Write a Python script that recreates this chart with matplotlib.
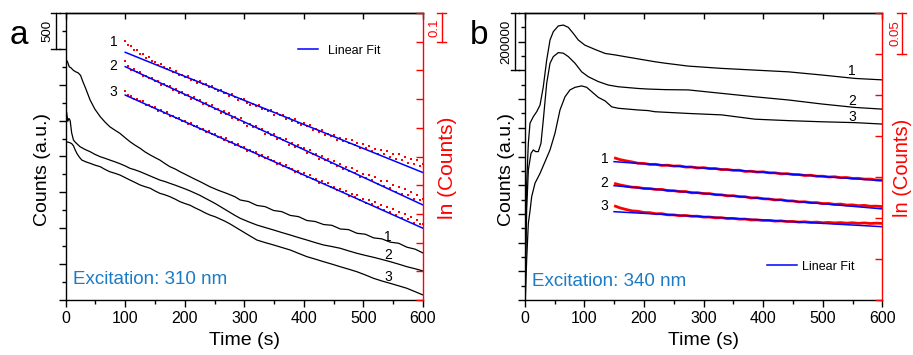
import matplotlib
matplotlib.use('Agg')
import matplotlib.pyplot as plt
import matplotlib.transforms as mtransforms
from matplotlib.ticker import MultipleLocator, NullFormatter
from matplotlib.lines import Line2D

plt.rcParams['font.family'] = ['Liberation Sans', 'DejaVu Sans']

# ---------------- Panel a data (Excitation 310 nm) ----------------
a1_t = [0, 3, 6, 9, 13, 17, 21, 25, 29, 33, 41, 49, 58, 66, 74, 83, 91, 100, 108, 116, 125, 133, 142, 150,
        158, 167, 175, 184, 192, 200, 214, 228, 242, 256, 270, 284, 293, 307, 321, 335, 349, 363, 377, 391,
        405, 419, 433, 447, 461, 475, 489, 503, 517, 531, 545, 559, 573, 587, 600]
a1_c = [3360, 3320, 3250, 3235, 3200, 3180, 3165, 3130, 3040, 2960, 2787, 2660, 2555, 2480, 2415, 2365, 2323,
        2260, 2206, 2160, 2114, 2065, 2021, 1985, 1951, 1900, 1858, 1825, 1788, 1755, 1696, 1640, 1579, 1530,
        1487, 1440, 1394, 1372, 1318, 1301, 1248, 1231, 1179, 1162, 1108, 1094, 1052, 1041, 990, 981, 930,
        917, 866, 852, 806, 791, 736, 708, 655]
a2_t = [0, 1.5, 3.5, 5.5, 7.5, 10, 13, 16, 24, 32, 41, 49, 58, 66, 74, 83, 91, 100, 108, 116, 125, 133, 142,
        150, 158, 167, 175, 184, 192, 200, 209, 217, 225, 234, 242, 251, 259, 267, 276, 284, 293, 307, 321,
        335, 349, 363, 377, 391, 405, 419, 433, 447, 461, 475, 489, 503, 517, 531, 545, 559, 573, 587, 600]
a2_c = [2450, 2620, 2490, 2530, 2500, 2330, 2230, 2200, 2137, 2100, 2067, 2030, 1997, 1975, 1951, 1925, 1900,
        1868, 1835, 1815, 1788, 1760, 1728, 1700, 1672, 1650, 1626, 1600, 1575, 1550, 1520, 1490, 1460, 1420,
        1385, 1345, 1305, 1265, 1220, 1180, 1139, 1090, 1045, 1010, 976, 940, 906, 870, 836, 800, 767, 745,
        721, 685, 651, 622, 595, 565, 534, 500, 464, 435, 405]
a3_t = [0, 4, 7, 10, 13, 16, 19, 23, 27, 34, 41, 49, 58, 66, 74, 83, 91, 100, 108, 116, 125, 133, 142, 150,
        158, 167, 175, 184, 192, 200, 209, 217, 226, 234, 242, 251, 259, 267, 276, 284, 293, 307, 321, 335,
        349, 363, 377, 391, 405, 419, 433, 447, 461, 475, 489, 503, 517, 531, 545, 559, 573, 587, 600]
a3_c = [2206, 2200, 2192, 2180, 2150, 2090, 2040, 1990, 1951, 1925, 1905, 1880, 1858, 1820, 1788, 1765, 1742,
        1705, 1672, 1640, 1603, 1580, 1557, 1520, 1487, 1465, 1440, 1405, 1370, 1345, 1320, 1285, 1250, 1215,
        1185, 1160, 1130, 1100, 1060, 1020, 975, 905, 836, 800, 767, 732, 697, 650, 604, 570, 534, 500, 464,
        430, 394, 350, 302, 265, 232, 198, 163, 115, 70]

redA_t = list(range(100, 601, 5))
redA1 = [7.902, 7.888, 7.886, 7.872, 7.871, 7.857, 7.856, 7.844, 7.846, 7.833,
         7.831, 7.820, 7.823, 7.812, 7.804, 7.807, 7.796, 7.798, 7.783, 7.785,
         7.777, 7.779, 7.768, 7.767, 7.757, 7.763, 7.752, 7.753, 7.741, 7.747,
         7.736, 7.727, 7.733, 7.721, 7.722, 7.711, 7.717, 7.706, 7.697, 7.702,
         7.701, 7.687, 7.680, 7.684, 7.675, 7.679, 7.664, 7.667, 7.657, 7.663,
         7.646, 7.652, 7.643, 7.645, 7.630, 7.634, 7.624, 7.631, 7.616, 7.609,
         7.615, 7.605, 7.609, 7.593, 7.597, 7.586, 7.593, 7.576, 7.580, 7.570,
         7.574, 7.558, 7.565, 7.554, 7.561, 7.547, 7.557, 7.540, 7.546, 7.531,
         7.543, 7.529, 7.538, 7.518, 7.526, 7.510, 7.524, 7.508, 7.519, 7.498,
         7.509, 7.491, 7.508, 7.487, 7.498, 7.477, 7.493, 7.474, 7.487, 7.466,
         7.474]
redA2 = [7.833, 7.816, 7.803, 7.806, 7.795, 7.794, 7.782, 7.782, 7.772, 7.774,
         7.763, 7.763, 7.750, 7.753, 7.745, 7.746, 7.732, 7.734, 7.721, 7.724,
         7.714, 7.716, 7.702, 7.709, 7.696, 7.696, 7.682, 7.686, 7.675, 7.679,
         7.666, 7.665, 7.652, 7.659, 7.648, 7.651, 7.635, 7.638, 7.627, 7.633,
         7.618, 7.608, 7.614, 7.602, 7.608, 7.595, 7.596, 7.580, 7.585, 7.574,
         7.579, 7.562, 7.566, 7.556, 7.561, 7.541, 7.546, 7.534, 7.540, 7.528,
         7.529, 7.513, 7.521, 7.507, 7.508, 7.493, 7.503, 7.488, 7.491, 7.476,
         7.485, 7.468, 7.475, 7.456, 7.464, 7.450, 7.461, 7.443, 7.451, 7.429,
         7.440, 7.424, 7.437, 7.418, 7.427, 7.403, 7.416, 7.398, 7.414, 7.391,
         7.402, 7.376, 7.392, 7.371, 7.387, 7.365, 7.377, 7.353, 7.367, 7.349,
         7.352]
redA3 = [7.729, 7.714, 7.712, 7.701, 7.702, 7.692, 7.692, 7.680, 7.679, 7.671,
         7.671, 7.660, 7.661, 7.653, 7.654, 7.641, 7.641, 7.633, 7.635, 7.625,
         7.624, 7.613, 7.616, 7.607, 7.608, 7.596, 7.595, 7.585, 7.588, 7.579,
         7.580, 7.567, 7.569, 7.559, 7.563, 7.551, 7.549, 7.540, 7.543, 7.532,
         7.532, 7.520, 7.524, 7.514, 7.516, 7.503, 7.504, 7.495, 7.498, 7.487,
         7.485, 7.474, 7.478, 7.467, 7.470, 7.459, 7.458, 7.447, 7.451, 7.440,
         7.441, 7.429, 7.434, 7.422, 7.422, 7.409, 7.414, 7.403, 7.407, 7.393,
         7.394, 7.382, 7.388, 7.375, 7.381, 7.364, 7.370, 7.358, 7.365, 7.349,
         7.353, 7.338, 7.348, 7.333, 7.342, 7.323, 7.330, 7.313, 7.324, 7.308,
         7.317, 7.297, 7.306, 7.286, 7.300, 7.281, 7.289, 7.270, 7.279, 7.264,
         7.266]
fitA_t = [100, 600]
fitA1 = [7.863, 7.444]
fitA2 = [7.813, 7.331]
fitA3 = [7.714, 7.250]

# ---------------- Panel b data (Excitation 340 nm) ----------------
b1_t = [0, 1.5, 3.3, 6.1, 8.9, 14.5, 20.1, 25.7, 31.2, 36.9, 42.5, 48, 56.4, 64.8, 73.2, 81.5, 89.9, 101,
        118, 135, 151.5, 168, 185, 202, 219, 236, 274.5, 330.5, 386.4, 442.3, 498.3, 554.2, 600]
b1_c = [40e3, 150e3, 406e3, 546e3, 616e3, 639e3, 656e3, 679e3, 743e3, 836e3, 906e3, 935e3, 955e3, 958e3,
        950e3, 929e3, 906e3, 888e3, 873e3, 859e3, 854e3, 848e3, 842e3, 836e3, 830e3, 825e3, 815e3, 807e3,
        801e3, 795e3, 784e3, 772e3, 767e3]
b2_t = [0, 1.5, 3.3, 6.1, 10.6, 14.5, 18.4, 22.8, 27.3, 31.2, 36.9, 42.5, 48, 56.4, 64.8, 73.2, 84.4, 95.6,
        106.7, 123.5, 140.3, 157, 173.8, 190.6, 207.4, 235.4, 274.5, 330.5, 386.4, 442.3, 498.3, 554.2, 600]
b2_c = [20e3, 120e3, 314e3, 453e3, 511e3, 523e3, 517e3, 517e3, 546e3, 627e3, 755e3, 825e3, 848e3, 862e3,
        860e3, 848e3, 825e3, 795e3, 778e3, 761e3, 749e3, 743e3, 740e3, 737e3, 735e3, 733e3, 732e3, 720e3,
        708e3, 697e3, 683e3, 671e3, 665e3]
b3_t = [1, 2, 3.3, 6.1, 8.9, 11.7, 17.3, 25.7, 34.1, 42.5, 50.8, 59.2, 67.6, 76, 84.4, 95.6, 104, 112.4,
        123.5, 134.7, 146, 157, 174, 191, 207, 218.6, 274.5, 330.5, 386.4, 442.3, 498.3, 554.2, 600]
b3_c = [0, 60e3, 140e3, 267e3, 310e3, 360e3, 407e3, 441e3, 482e3, 523e3, 581e3, 662e3, 708e3, 732e3,
        741e3, 746e3, 741e3, 726e3, 706e3, 694e3, 673e3, 668e3, 665e3, 662e3, 660e3, 656e3, 650e3, 645e3,
        630e3, 625e3, 621e3, 618e3, 613e3]

redB_t = list(range(150, 601, 10))
redB1 = [13.5735, 13.5712, 13.5697, 13.5684, 13.5668, 13.5666, 13.5653, 13.5655, 13.5641, 13.5644,
         13.5633, 13.5635, 13.5621, 13.5622, 13.5610, 13.5614, 13.5602, 13.5604, 13.5590, 13.5592,
         13.5581, 13.5583, 13.5568, 13.5570, 13.5560, 13.5563, 13.5551, 13.5551, 13.5538, 13.5541,
         13.5530, 13.5530, 13.5518, 13.5522, 13.5509, 13.5510, 13.5500, 13.5503, 13.5492, 13.5494,
         13.5483, 13.5484, 13.5474, 13.5475, 13.5463, 13.5463]
redB2 = [13.5423, 13.5403, 13.5389, 13.5376, 13.5373, 13.5359, 13.5359, 13.5348, 13.5349, 13.5333,
         13.5333, 13.5322, 13.5323, 13.5307, 13.5309, 13.5298, 13.5298, 13.5284, 13.5283, 13.5270,
         13.5272, 13.5260, 13.5259, 13.5244, 13.5247, 13.5234, 13.5232, 13.5220, 13.5223, 13.5209,
         13.5208, 13.5196, 13.5198, 13.5187, 13.5188, 13.5176, 13.5177, 13.5166, 13.5170, 13.5158,
         13.5160, 13.5150, 13.5154, 13.5143, 13.5145, 13.5139]
redB3 = [13.5150, 13.5123, 13.5104, 13.5087, 13.5082, 13.5067, 13.5065, 13.5052, 13.5053, 13.5039,
         13.5038, 13.5028, 13.5031, 13.5021, 13.5022, 13.5011, 13.5012, 13.5002, 13.5004, 13.4993,
         13.4995, 13.4986, 13.4987, 13.4976, 13.4977, 13.4970, 13.4971, 13.4962, 13.4965, 13.4957,
         13.4958, 13.4950, 13.4954, 13.4947, 13.4950, 13.4942, 13.4946, 13.4940, 13.4944, 13.4937,
         13.4942, 13.4935, 13.4940, 13.4933, 13.4937, 13.4934]
fitB_t = [150, 600]
fitB1 = [13.5687, 13.5455]
fitB2 = [13.5394, 13.5111]
fitB3 = [13.5077, 13.4894]

x_ticks = [0, 100, 200, 300, 400, 500, 600]
curve_labels = ['1', '2', '3']

RED = '#ff0000'
BLUE = '#0000ff'
EXC = '#1b7bc4'

W, H = 913, 355
fig = plt.figure(figsize=(W / 100, H / 100), dpi=100)


def rect(l, r, t, b):
    return [l / W, 1 - b / H, (r - l) / W, (b - t) / H]


def style(ax, axr, ylim, ymaj, ymin, rlim, rmaj, rfs):
    ax.set_xlim(0, 600)
    ax.set_ylim(*ylim)
    ax.set_xticks(x_ticks)
    ax.xaxis.set_minor_locator(MultipleLocator(50))
    ax.yaxis.set_major_locator(MultipleLocator(ymaj))
    ax.yaxis.set_minor_locator(MultipleLocator(ymin))
    ax.yaxis.set_major_formatter(NullFormatter())
    ax.tick_params(axis='x', which='major', direction='out', length=5, width=1, labelsize=11.5, pad=3)
    ax.tick_params(axis='x', which='minor', direction='out', length=3, width=1)
    ax.tick_params(axis='y', which='major', direction='out', length=5, width=1, right=False)
    ax.tick_params(axis='y', which='minor', direction='out', length=3, width=1, right=False)
    ax.spines['right'].set_visible(False)
    for s in ['left', 'bottom', 'top']:
        ax.spines[s].set_linewidth(1.0)
    # top axis: inward major ticks only
    sec = ax.secondary_xaxis('top')
    sec.set_xticks(x_ticks)
    sec.tick_params(axis='x', direction='in', length=4, width=1, labeltop=False)
    sec.xaxis.set_major_formatter(NullFormatter())
    sec.spines['top'].set_linewidth(1.0)
    axr.set_ylim(*rlim)
    axr.yaxis.set_major_locator(MultipleLocator(rmaj))
    axr.yaxis.set_major_formatter(NullFormatter())
    axr.tick_params(axis='y', which='major', direction='in', length=5, width=1, colors=RED)
    axr.spines['right'].set_color(RED)
    axr.spines['right'].set_linewidth(1.0)
    for s in ['left', 'bottom', 'top']:
        axr.spines[s].set_visible(False)
    ax.set_xlabel('Time (s)', fontsize=14, labelpad=4)
    ax.set_ylabel('Counts (a.u.)', fontsize=14)
    axr.set_ylabel('ln (Counts)', fontsize=rfs, color=RED)


def scalebar(ax, xfrac, y0, y1, label, color, lx, capw=0.012):
    tr = mtransforms.blended_transform_factory(ax.transAxes, ax.transData)
    ax.plot([xfrac, xfrac], [y0, y1], color=color, lw=1.0, transform=tr, clip_on=False)
    for yy in (y0, y1):
        ax.plot([xfrac - capw, xfrac + capw], [yy, yy], color=color, lw=1.0, transform=tr, clip_on=False)
    ax.text(lx, (y0 + y1) / 2, label, rotation=90, ha='center', va='center', fontsize=9.5,
            color=color, transform=tr)


# ---------------- Panel a ----------------
axA = fig.add_axes(rect(65.7, 423, 13, 300))
axA2 = axA.twinx()
style(axA, axA2, (0, 4000), 500, 250, (7.0, 8.0), 0.1, 15)
for t, c in ((a1_t, a1_c), (a2_t, a2_c), (a3_t, a3_c)):
    axA.plot(t, c, color='black', lw=0.9)
for r in (redA1, redA2, redA3):
    axA2.plot(redA_t, r, ls='none', marker='s', ms=2.1, mew=0, color=RED)
for f in (fitA1, fitA2, fitA3):
    axA2.plot(fitA_t, f, color=BLUE, lw=1.1)
axA.yaxis.set_label_coords(-0.042, 0.455)
axA2.yaxis.set_label_coords(1.043, 0.46)
scalebar(axA, -0.028, 3500, 4000, '500', 'black', -0.05)
scalebar(axA2, 1.052, 7.9, 8.0, '0.1', RED, 1.032)
for lab, yv in zip(curve_labels, [7.899, 7.815, 7.725]):
    axA2.text(80, yv, lab, fontsize=10, ha='center', va='center')
for lab, yv in zip(curve_labels, [882, 623, 325]):
    axA.text(541, yv, lab, fontsize=10, ha='center', va='center')
axA.text(0.02, 0.07, 'Excitation: 310 nm', transform=axA.transAxes, fontsize=13.5, color=EXC,
         ha='left', va='center')
axA2.legend(handles=[Line2D([], [], color=BLUE, lw=1.1)], labels=['Linear Fit'], loc='center left',
            bbox_to_anchor=(0.65, 0.869), frameon=False, fontsize=9, handlelength=1.6,
            handletextpad=0.8, borderpad=0, borderaxespad=0)

# ---------------- Panel b ----------------
axB = fig.add_axes(rect(524.7, 882.3, 13, 300))
axB2 = axB.twinx()
style(axB, axB2, (0, 1.0e6), 100000, 50000, (13.40, 13.75), 0.05, 14.5)
for t, c in ((b1_t, b1_c), (b2_t, b2_c), (b3_t, b3_c)):
    axB.plot(t, c, color='black', lw=0.9)
for r in (redB1, redB2, redB3):
    axB2.plot(redB_t, r, color=RED, lw=2.0, solid_capstyle='butt')
for f in (fitB1, fitB2, fitB3):
    axB2.plot(fitB_t, f, color=BLUE, lw=1.1)
axB.yaxis.set_label_coords(-0.028, 0.455)
axB2.yaxis.set_label_coords(1.030, 0.46)
scalebar(axB, -0.027, 800000, 1000000, '200000', 'black', -0.052)
scalebar(axB2, 1.054, 13.70, 13.75, '0.05', RED, 1.036)
for lab, yv in zip(curve_labels, [13.5723, 13.5423, 13.5144]):
    axB2.text(134, yv, lab, fontsize=10, ha='center', va='center')
for lab, yv in zip(curve_labels, [798600, 694000, 636000]):
    axB.text(549, yv, lab, fontsize=10, ha='center', va='center')
axB.text(0.021, 0.064, 'Excitation: 340 nm', transform=axB.transAxes, fontsize=13.5, color=EXC,
         ha='left', va='center')
axB2.legend(handles=[Line2D([], [], color=BLUE, lw=1.1)], labels=['Linear Fit'], loc='center left',
            bbox_to_anchor=(0.677, 0.116), frameon=False, fontsize=9, handlelength=2.4,
            handletextpad=0.4, borderpad=0, borderaxespad=0)

fig.text(10 / W, 1 - 36 / H, 'a', fontsize=24, ha='left', va='center')
fig.text(470 / W, 1 - 36 / H, 'b', fontsize=24, ha='left', va='center')

fig.savefig('out.png', dpi=100)
